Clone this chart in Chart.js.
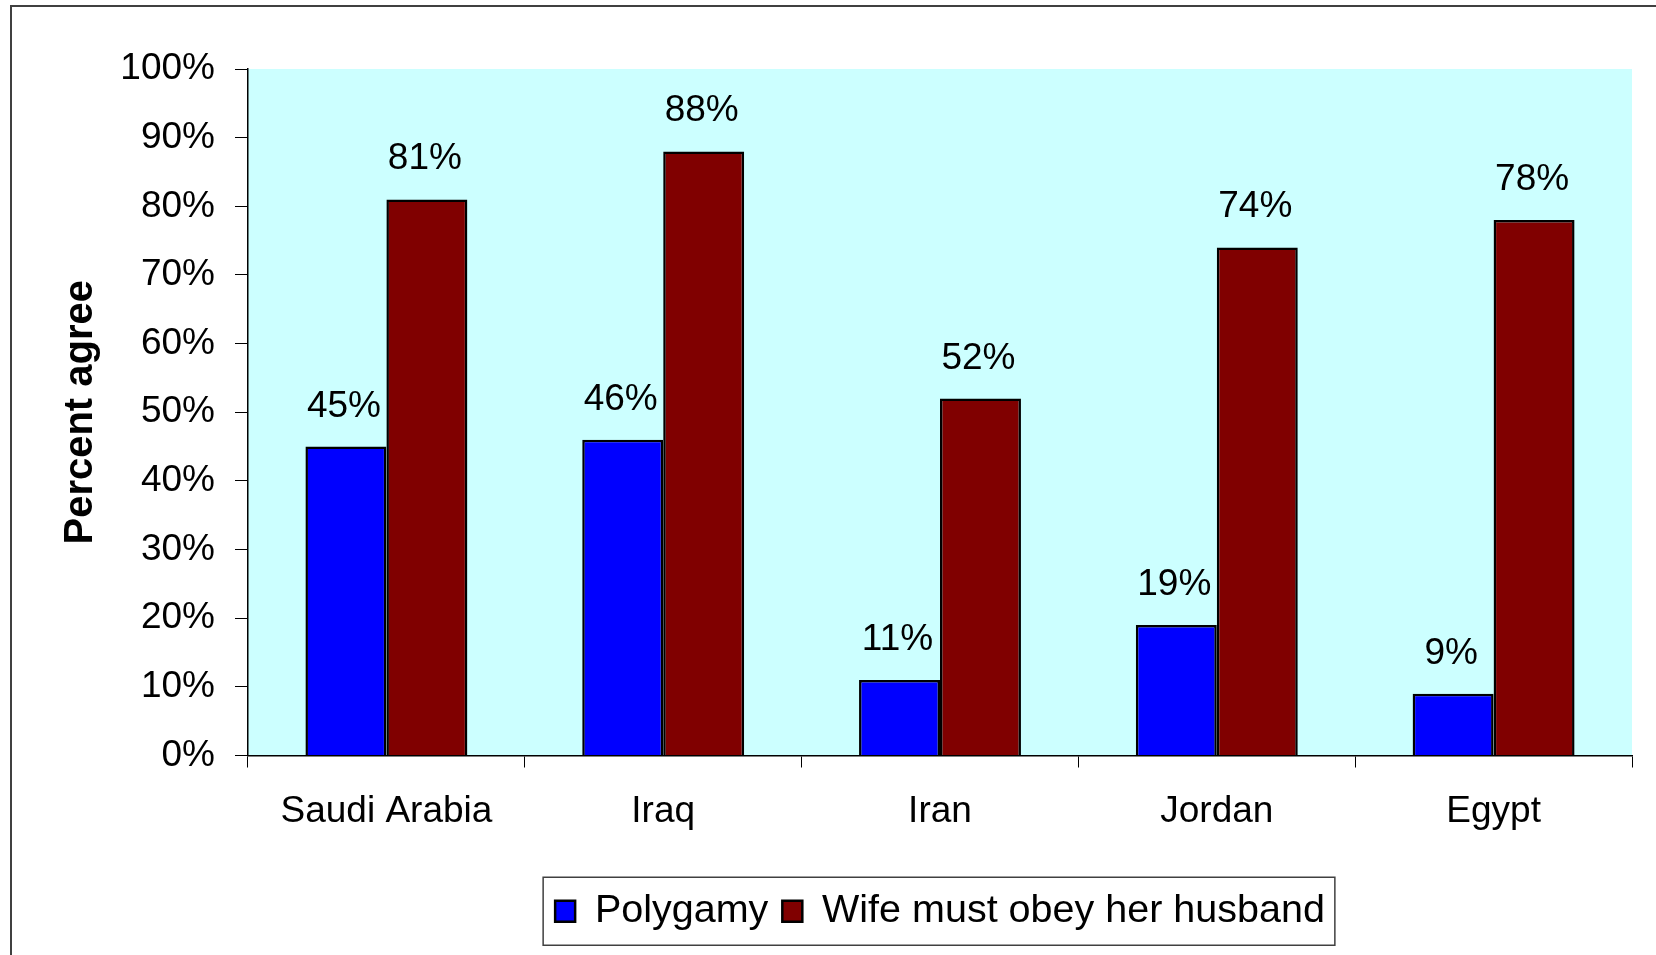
<!DOCTYPE html>
<html>
<head>
<meta charset="utf-8">
<script src="https://cdn.jsdelivr.net/npm/chart.js@4"></script>
<style>
  body { margin: 0; background: #fff; }
  #wrap { width: 1656px; height: 955px; position: relative; }
</style>
</head>
<body>
<div id="wrap"><canvas id="chart"></canvas></div>
<script>
const countries = ['Saudi Arabia', 'Iraq', 'Iran', 'Jordan', 'Egypt'];
const polygamy = [45, 46, 11, 19, 9];
const wifeObey = [81, 88, 52, 74, 78];
const seriesNames = ['Polygamy', 'Wife must obey her husband'];

const FONT = "'Liberation Sans', Arial, sans-serif";

// light turquoise plot area + outer frame
const backdrop = {
    id: 'backdrop',
    beforeDraw(chart) {
        const { ctx, chartArea: a } = chart;
        ctx.save();
        ctx.fillStyle = '#CCFFFF';
        ctx.fillRect(a.left, a.top, a.right - a.left, a.bottom - a.top);
        ctx.strokeStyle = '#404040';
        ctx.lineWidth = 2;
        ctx.strokeRect(11, 6, 2000, 2000);
        ctx.restore();
    }
};

// percentage above each bar
const valueLabels = {
    id: 'valueLabels',
    afterDatasetsDraw(chart) {
        const ctx = chart.ctx;
        ctx.save();
        ctx.font = '37px ' + FONT;
        ctx.fillStyle = '#000';
        ctx.textAlign = 'center';
        ctx.textBaseline = 'alphabetic';
        chart.data.datasets.forEach((ds, i) => {
            chart.getDatasetMeta(i).data.forEach((bar, j) => {
                ctx.fillText(ds.data[j] + '%', bar.x - 2, bar.y - 30);
            });
        });
        ctx.restore();
    }
};

// frame round the legend
const legendFrame = {
    id: 'legendFrame',
    afterDraw(chart) {
        const boxes = chart.legend.legendHitBoxes;
        if (!boxes || !boxes.length) return;
        const first = boxes[0], last = boxes[boxes.length - 1];
        const cy = first.top + first.height / 2;
        const ctx = chart.ctx;
        ctx.save();
        ctx.strokeStyle = '#404040';
        ctx.lineWidth = 1.5;
        ctx.strokeRect(first.left - 12, cy - 34, last.left + last.width + 10 - (first.left - 12), 68);
        ctx.restore();
    }
};

new Chart(document.getElementById('chart'), {
    type: 'bar',
    data: {
        labels: countries,
        datasets: [
            {
                label: seriesNames[0],
                data: polygamy,
                backgroundColor: '#0000FF',
                borderColor: '#000',
                borderWidth: 2.5,
                categoryPercentage: 0.585,
                barPercentage: 1
            },
            {
                label: seriesNames[1],
                data: wifeObey,
                backgroundColor: '#800000',
                borderColor: '#000',
                borderWidth: 2.5,
                categoryPercentage: 0.585,
                barPercentage: 1
            }
        ]
    },
    options: {
        responsive: true,
        maintainAspectRatio: false,
        animation: false,
        layout: { padding: { left: 53, top: 69, right: 24, bottom: 14 } },
        plugins: {
            tooltip: { enabled: false },
            legend: {
                position: 'bottom',
                fullSize: false,
                labels: {
                    color: '#000',
                    font: { family: FONT, size: 39.5 },
                    boxWidth: 20,
                    boxHeight: 21,
                    padding: 14
                }
            }
        },
        scales: {
            x: {
                afterFit(scale) { scale.height = 122; },
                grid: {
                    display: true,
                    drawOnChartArea: false,
                    offset: true,
                    tickLength: 12,
                    color: '#000'
                },
                border: { display: true, color: '#000', width: 1.5 },
                ticks: {
                    color: '#000',
                    padding: 22,
                    font: { family: FONT, size: 37 }
                }
            },
            y: {
                min: 0,
                max: 100,
                afterFit(scale) { scale.width = 195; },
                grid: {
                    display: true,
                    drawOnChartArea: false,
                    tickLength: 13,
                    color: '#000'
                },
                border: { display: true, color: '#000', width: 1.5 },
                ticks: {
                    stepSize: 10,
                    color: '#000',
                    padding: 20,
                    font: { family: FONT, size: 37 },
                    callback: v => v + '%'
                },
                title: {
                    display: true,
                    text: 'Percent agree',
                    color: '#000',
                    padding: { top: 4, bottom: 4 },
                    font: { family: FONT, size: 40, weight: 'bold' }
                }
            }
        }
    },
    plugins: [backdrop, valueLabels, legendFrame]
});
</script>
</body>
</html>
